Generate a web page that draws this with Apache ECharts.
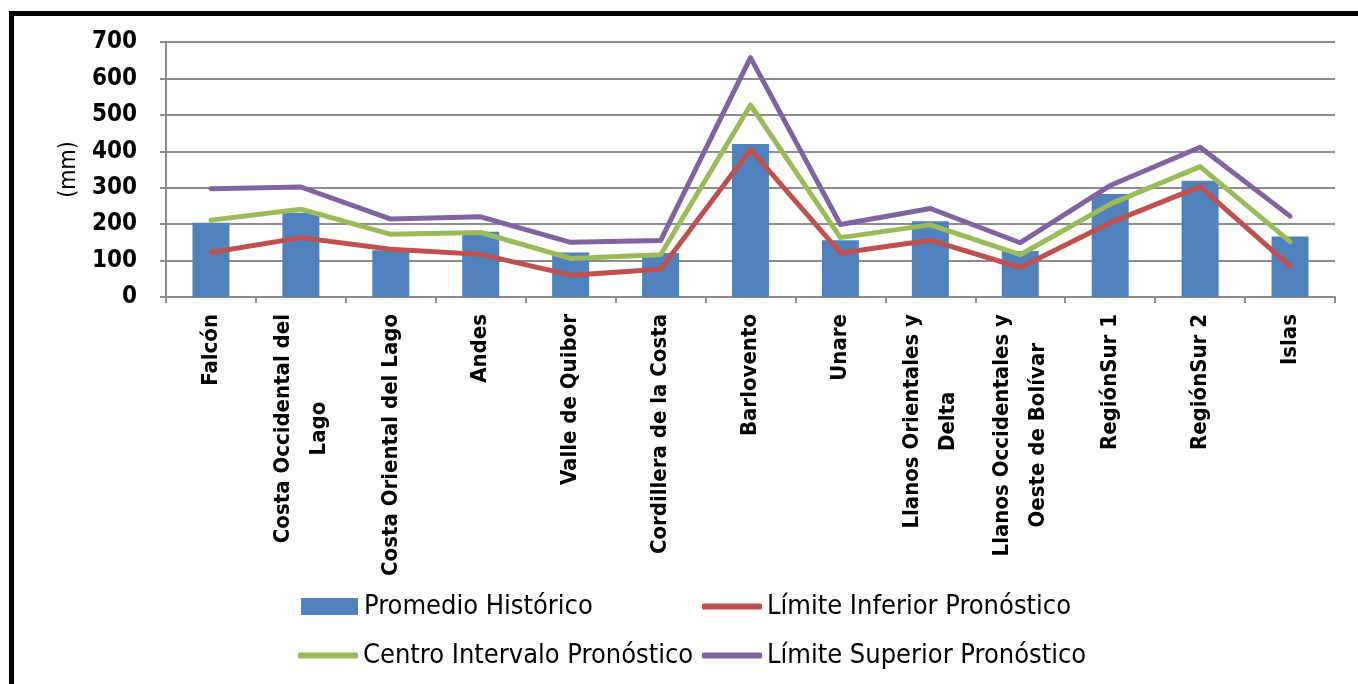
<!DOCTYPE html>
<html>
<head>
<meta charset="utf-8">
<script src="https://cdn.jsdelivr.net/npm/echarts@6/dist/echarts.min.js"></script>
<style>
html,body{margin:0;padding:0;background:#fff;overflow:hidden;width:1358px;height:684px;}
#frame{position:absolute;left:9px;top:11px;width:1400px;height:720px;border:5px solid #000;box-sizing:border-box;}
#chart{position:absolute;left:0;top:0;width:1358px;height:684px;}
</style>
</head>
<body>
<div id="frame"></div>
<div id="chart"></div>
<script>
const categories = ['Falcón','Costa Occidental del\nLago','Costa Oriental del Lago','Andes','Valle de Quibor','Cordillera de la Costa','Barlovento','Unare','Llanos Orientales y\nDelta','Llanos Occidentales y\nOeste de Bolívar','RegiónSur 1','RegiónSur 2','Islas'];
const promedioHistorico = [204, 231, 128, 179, 122, 121, 420, 156, 208, 126, 283, 319, 166];
const limiteInferior = [122, 163, 131, 117, 60, 76, 405, 121, 156, 81, 204, 303, 85];
const centroIntervalo = [211, 241, 172, 177, 106, 116, 527, 163, 198, 116, 255, 358, 152];
const limiteSuperior = [297, 302, 214, 220, 150, 155, 657, 199, 243, 149, 306, 411, 222];
const yTicks = [0, 100, 200, 300, 400, 500, 600, 700];

const FONT = "'DejaVu Sans Condensed','Liberation Sans Narrow',sans-serif";
const GRID = '#8c8c8c';
const chart = echarts.init(document.getElementById('chart'), null, {renderer:'canvas'});

function legendAt(name, left, top, isBar){
  return {
    data:[name], left:left, top:top, orient:'horizontal',
    itemWidth: isBar ? 57 : 60, itemHeight: isBar ? 17 : 6, itemGap: 0,
    textStyle:{fontFamily:FONT, fontSize:27, color:'#000', padding:[0,0,0,isBar?1:0]},
    icon: isBar ? 'rect' : 'roundRect'
  };
}

chart.setOption({
  animation:false,
  backgroundColor:'transparent',
  grid:{left:166, right:23, top:42, bottom:387, containLabel:false},
  legend:[
    legendAt('Promedio Histórico', 296, 588, true),
    legendAt('Límite Inferior Pronóstico', 697, 588, false),
    legendAt('Centro Intervalo Pronóstico', 293, 637, false),
    legendAt('Límite Superior Pronóstico', 697, 637, false)
  ],
  xAxis:{
    type:'category', data:categories,
    axisLine:{show:true, lineStyle:{color:GRID, width:2}},
    axisTick:{show:true, alignWithLabel:false, length:6, lineStyle:{color:GRID, width:2}},
    axisLabel:{interval:0, rotate:90, margin:17, color:'#000',
      formatter:function(v){ return v.split('\n').map(function(l){return '{c|'+l+'}';}).join('\n'); },
      rich:{c:{align:'center', fontFamily:FONT, fontWeight:'bold', fontSize:22, color:'#000', lineHeight:36}}
    }
  },
  yAxis:{
    type:'value', min:0, max:700, interval:100,
    name:'(mm)', nameLocation:'middle', nameRotate:90, nameGap:84,
    nameTextStyle:{fontFamily:FONT, fontSize:23, color:'#000'},
    axisLine:{show:true, lineStyle:{color:GRID, width:2}},
    axisTick:{show:true, length:6, lineStyle:{color:GRID, width:2}},
    splitLine:{show:true, lineStyle:{color:GRID, width:2}},
    axisLabel:{margin:29, fontFamily:FONT, fontWeight:'bold', fontSize:24, color:'#000',
      formatter:function(v){return yTicks.indexOf(v)>=0 ? String(v) : '';}}
  },
  series:[
    {name:'Promedio Histórico', type:'bar', data:promedioHistorico, barWidth:37, itemStyle:{color:'#4F81BD'}, z:1},
    {name:'Límite Inferior Pronóstico', type:'line', data:limiteInferior, symbol:'none', itemStyle:{color:'#C0504D'}, lineStyle:{color:'#C0504D', width:5, cap:'round', join:'round'}, z:3},
    {name:'Centro Intervalo Pronóstico', type:'line', data:centroIntervalo, symbol:'none', itemStyle:{color:'#9BBB59'}, lineStyle:{color:'#9BBB59', width:5, cap:'round', join:'round'}, z:3},
    {name:'Límite Superior Pronóstico', type:'line', data:limiteSuperior, symbol:'none', itemStyle:{color:'#8064A2'}, lineStyle:{color:'#8064A2', width:5, cap:'round', join:'round'}, z:3}
  ]
});
</script>
</body>
</html>
